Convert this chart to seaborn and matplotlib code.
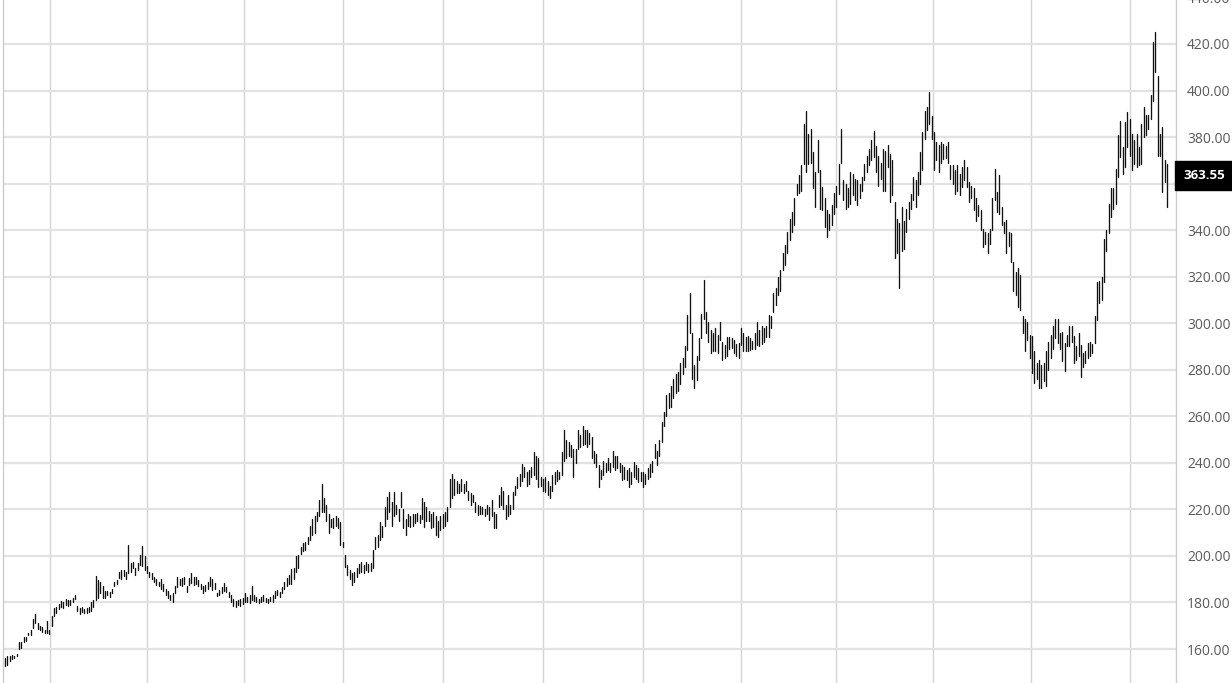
import matplotlib
matplotlib.use("Agg")
import matplotlib.pyplot as plt
import seaborn as sns
import pandas as pd

# daily high/low of each bar (left to right)
bar_low = [
    152.5, 153, 155, 155.5, 156, 157, 160, 160.5, 163, 163.5, 166, 166, 169, 171, 168.5, 168, 167.5, 167, 167, 166.5,
    170, 174, 175.5, 177, 178, 177.5, 179, 178.5, 179, 180, 181.5, 176.5, 175, 176, 175.5, 175.5, 176, 176.5, 178, 181,
    182, 184, 182, 182, 183, 182.5, 184, 187, 188, 190.5, 190, 191.5, 190, 192.7, 193, 195, 192, 194, 196, 195.5,
    194, 192.6, 191, 190, 189, 187.5, 187, 186, 185, 183, 182, 181, 180.4, 184, 186.5, 187.5, 187, 188, 184.7, 187.5, 188.5,
    187.5, 188, 187, 186, 184, 185, 186, 187, 185.4, 186, 182.6, 183, 184, 185, 184.5, 182.5, 180, 178.5, 178, 179, 178.5,
    179.5, 180, 180, 179.7, 181, 180.5, 180, 179.7, 180, 180.5, 180, 179.7, 180.5, 180, 182, 183, 182.5, 184, 186, 187, 188,
    188, 190, 193, 195, 201, 202, 202.5, 205, 207, 209, 210, 215, 217, 219, 219, 215, 209.7, 212.6, 212, 213, 212,
    204.7, 204, 195.4, 192, 190, 187.6, 189, 191, 192.6, 193, 192.6, 194, 193, 193.5, 194.7, 203, 204, 207, 208, 213, 216,
    219, 213, 217, 218, 215, 221, 212, 209, 213, 212.6, 213, 214, 215, 214, 216, 212.6, 215, 215, 212, 212.5, 209,
    208.3, 211, 212, 213, 215, 221, 225, 226, 227, 227, 228, 227, 228, 224, 222, 223, 219, 217.6, 218, 218, 217,
    218, 215.4, 217, 212, 211.9, 221, 222, 220, 216, 217, 218, 220, 226, 229, 230, 232, 234, 230, 231, 234,
    234.7, 233, 229.7, 230, 228, 227.6, 226, 224.7, 228, 231, 232, 233, 234.7, 241, 242, 243, 242.6, 234, 240, 246, 247,
    247.6, 248, 247, 248, 241.9, 240, 238, 229.7, 233, 234.7, 236, 237, 236, 238, 237, 237.6, 236, 232.6, 233, 232.6, 229.7,
    231, 234, 233, 231.9, 232, 229.7, 231, 233, 234, 236, 241.9, 239, 243, 249, 256, 260, 263.6, 264, 268, 270, 271,
    274, 278, 281, 288.6, 296, 276, 272.1, 275.7, 284, 293.6, 302, 296, 292, 287, 288, 287.9, 287, 292.9, 284.3, 285, 286,
    289, 289.5, 287, 286, 285, 290.7, 288, 287.9, 288, 288.6, 289, 289, 290.7, 290, 291, 292, 294, 294, 298, 305, 308,
    312, 314, 323, 325, 330, 335.7, 339, 342, 355, 356, 357, 368.6, 365, 368.6, 369, 357.9, 350, 365, 349, 348.6, 341.4,
    337.1, 340, 342, 347, 350, 355.7, 369, 352.9, 349, 350, 351.4, 355, 352.9, 350.7, 354, 357, 361.4, 365, 368, 370, 371.4,
    365, 359, 362, 357, 357, 367, 352, 355, 327.9, 330, 315, 331, 332, 339, 345, 349, 352.9, 350, 355, 360, 366,
    379, 382.9, 385.7, 379, 366, 370, 365, 369, 370.7, 371, 369, 362, 360, 355.7, 357, 355, 358.6, 361.4, 358.6, 352, 354,
    348.6, 344, 346, 340, 332.9, 334, 330, 334, 340, 352.9, 347.9, 347, 342, 338.6, 330, 333, 326.4, 314, 312, 307, 305.7,
    295.7, 287.9, 292.9, 285, 278.6, 274.3, 276, 272, 272, 275, 272.9, 280, 285, 289, 293.6, 291.4, 289, 283.6, 279.3, 290, 290,
    292, 282.9, 284, 285.7, 277, 281.4, 283, 285, 285.7, 287, 291.4, 301.4, 308.6, 310, 317.9, 331, 338.6, 345.7, 349, 351.4, 362.9,
    371.4, 364, 367, 375.7, 372, 365.7, 368.6, 367, 367.9, 368.6, 380, 380.7, 383.6, 387.9, 395.7, 407.9, 372, 372, 356.4, 360.7, 350,
]
bar_high = [
    156, 157, 157, 157.5, 157, 158, 163, 163, 165, 165, 167, 168, 173, 175.2, 171, 170, 169.5, 168, 172, 168,
    174, 177.6, 178, 179.5, 180.5, 180, 181.5, 181, 181, 182, 183.3, 178.5, 177.5, 178, 177, 177.5, 178, 180, 181, 191.2,
    189.7, 189, 187, 185, 185, 184.5, 186, 189, 189.5, 193, 194, 194, 193, 204.8, 197, 197.5, 195, 197, 200.5, 204.4,
    200, 195.5, 193, 192.6, 191, 190, 189, 190, 188, 186, 185, 183, 184, 187, 191, 190, 190.5, 191, 187, 190.5, 192.6,
    191, 191, 189.5, 188, 187, 187.5, 189, 191, 190, 188.3, 184, 185.5, 186.5, 188.3, 186.5, 184.7, 183, 181.5, 180.5, 181, 181.5,
    182, 184, 182.5, 183, 187, 183, 182.5, 181.5, 182.5, 183.3, 182, 181.5, 182.5, 183, 185, 185.4, 184.5, 186.5, 189, 190.5, 192,
    194.3, 195, 200, 200.5, 204, 205.5, 206, 208, 213, 216, 217, 219, 224, 231, 225, 222, 218, 216, 216.5, 217, 216.5,
    214.7, 206, 200.4, 196, 194, 192.6, 193, 194.7, 196.5, 197.6, 196, 197.6, 196.5, 197, 202.6, 208, 209, 214.7, 213, 221, 225.5,
    227.6, 223, 227.6, 222, 220, 227.6, 220, 216, 218, 217, 218, 218, 218.5, 217.5, 224.7, 223, 221, 219.5, 218, 219, 217,
    215, 217, 218, 219, 221, 233, 235.4, 233, 232, 231, 233, 231, 232, 228, 227, 226, 223, 222, 221.5, 221, 220,
    222, 221, 224, 219, 218, 226, 229.7, 228, 222, 226, 222, 227.6, 230, 234, 235, 239.7, 238, 236, 237, 238,
    244.7, 243, 242, 234, 233, 234, 232, 230, 234.7, 236, 237, 236, 244.7, 254, 249.7, 249, 247.6, 246, 246, 254, 252,
    256, 254, 254, 253, 251, 245, 244, 239, 237, 241, 240, 242, 240, 245, 243, 243, 240, 239, 238, 237, 237.6,
    236, 240.4, 239, 237.6, 236, 236, 235, 237.6, 239.7, 241, 248, 245, 250, 257.6, 262, 269, 270, 273, 276, 278, 279,
    283, 285, 290, 303.6, 312.9, 296, 282, 285.7, 293.6, 304, 318.6, 305, 300.7, 297, 296, 297.9, 295, 300.7, 292, 290.5, 294,
    294, 293.5, 292.9, 291, 291.4, 297.9, 295.7, 294, 294.3, 293.6, 292.5, 295.7, 300.7, 297, 298.6, 298, 298.6, 303.6, 303, 313, 315,
    320, 323, 330, 333.6, 339, 345, 348, 354, 360, 363.6, 368, 385.7, 391.4, 381.4, 383.6, 373.6, 365, 378.6, 365.7, 358.6, 354,
    348.6, 347, 350.7, 356, 359, 368.6, 383.6, 361.4, 360, 358, 365, 364, 362, 361.4, 360, 363, 368.6, 372, 375, 378.6, 382.6,
    376, 372, 369, 375, 374, 376.4, 372.9, 370, 352, 345, 343, 350, 344, 349, 352, 355.7, 362.9, 361.4, 365, 373.6, 382,
    391.4, 392.9, 399.3, 389, 382, 378, 376.4, 377.9, 377, 376, 377.9, 368, 367.9, 366, 368, 364, 367, 370, 367, 360.7, 359,
    357.9, 353.6, 351, 348.6, 340.7, 339, 338.6, 340.7, 353.6, 366.4, 356.4, 363.6, 350, 343.6, 344.3, 339, 338.6, 326.4, 322, 323.6, 320.7,
    302.9, 302, 300.7, 295, 294.3, 287.9, 283, 284, 282, 283, 287.9, 292, 295, 299, 302, 302, 296, 296.4, 291.4, 295, 299,
    298.6, 294.3, 290, 295.7, 290.7, 287, 288, 291.4, 292, 291, 302.9, 317.9, 318, 320, 336.4, 340, 351.4, 357.9, 357.9, 366.4, 380.7,
    387, 375.7, 386.4, 390.7, 387.9, 381.4, 378.6, 381.4, 375.7, 385.7, 392.9, 389.3, 389.3, 397.9, 420.7, 425.3, 406.4, 381.4, 384.3, 370, 368.6,
]
last_close = 363.55
price_ticks = [160, 180, 200, 220, 240, 260, 280, 300, 320, 340, 360, 380, 400, 420, 440]

df = pd.DataFrame({"low": bar_low, "high": bar_high})
df["bar"] = range(len(df))
bars = df.melt(id_vars="bar", value_vars=["low", "high"], value_name="price")

sns.set_theme(style="white")
plt.rcParams["font.family"] = ["Open Sans", "DejaVu Sans"]

W, H = 1232, 683
fig = plt.figure(figsize=(W / 100, H / 100), dpi=100)
# price scale: 2.327 px per unit, axes runs a bit above the canvas top
ymin, ymax = 145.39, 450
ax = fig.add_axes([3 / W, 0, 1173 / W, (ymax - ymin) * 2.327 / H])

sns.lineplot(data=bars, x="bar", y="price", units="bar", estimator=None,
             color="#111111", lw=0.95, ax=ax, legend=False)

n = len(df)
step = 1162 / (n - 1)  # px between bars
ax.set_xlim(-2 / step, 1171 / step)
ax.set_ylim(ymin, ymax)

# vertical grid roughly every two months
grid_px = [50, 147, 244, 343, 443, 543, 643, 741, 836, 933, 1031, 1130]
ax.set_xticks([(p - 5) / step for p in grid_px])
ax.set_yticks(price_ticks)
ax.set_yticklabels([f"{v:.2f}" for v in price_ticks])
ax.yaxis.tick_right()
ax.tick_params(axis="y", length=0, pad=8, labelsize=10, labelcolor="#5a5a5a")
ax.tick_params(axis="x", length=0, labelbottom=False)
ax.set_xlabel("")
ax.set_ylabel("")

ax.grid(axis="y", color="#e2e2e2", lw=1.6)
ax.grid(axis="x", color="#d4d4d4", lw=1.0)
ax.set_axisbelow(True)

for s in ["top", "bottom"]:
    ax.spines[s].set_visible(False)
for s in ["left", "right"]:
    ax.spines[s].set_color("#cccccc")
    ax.spines[s].set_linewidth(1.0)

# last price marker on the scale
ax.text(1 + 7 / 1173, last_close, f"{last_close:.2f}", transform=ax.get_yaxis_transform(),
        ha="left", va="center", color="white", fontsize=9.5, fontweight="bold",
        bbox=dict(boxstyle="square,pad=0.6", fc="black", ec="black"),
        zorder=10, clip_on=False)

fig.savefig("out.png", dpi=100)
plt.close(fig)
